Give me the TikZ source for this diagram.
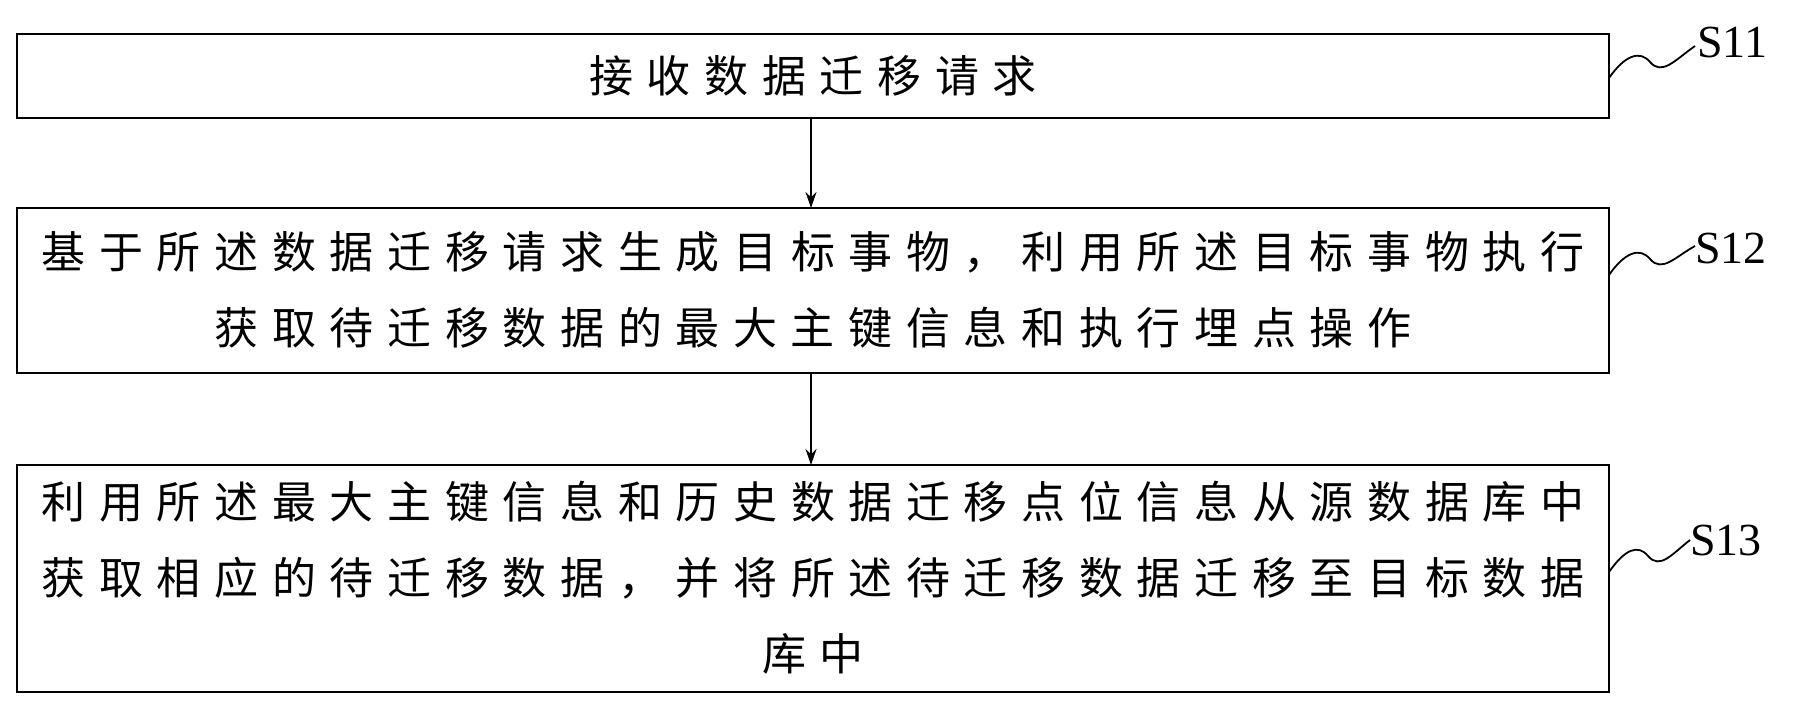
\documentclass[tikz,border=0pt]{standalone}
\usepackage{fontspec}
\usetikzlibrary{arrows.meta}
\newfontfamily\cjk[LetterSpace=31]{Noto Sans CJK SC}
\setmainfont{Liberation Serif}
\begin{document}
\begin{tikzpicture}[x=1pt,y=-1pt,
  box/.style={draw,line width=2.5pt},
  txt/.style={align=center,font=\cjk\fontsize{44}{76}\selectfont,inner sep=0},
  lab/.style={font=\fontsize{46}{46}\selectfont,anchor=west,inner sep=0},
  arr/.style={-{Stealth[length=16pt,width=11pt]},line width=2pt},
  wav/.style={line width=1.8pt}]
\useasboundingbox (0,0) rectangle (1795,707);
\draw[box] (17,34) rectangle (1609,118);
\draw[box] (17,208) rectangle (1609,373);
\draw[box] (17,465) rectangle (1609,692);
\coordinate (b1b) at (811,118); \coordinate (b2t) at (811,208);
\coordinate (b2b) at (811,373); \coordinate (b3t) at (811,465);
\node[txt] (t1) at (813,76) {接收数据迁移请求};
\node[txt] (t2) at (813,290) {基于所述数据迁移请求生成目标事物，利用所述目标事物执行\\获取待迁移数据的最大主键信息和执行埋点操作};
\node[txt] (t3) at (813,578) {利用所述最大主键信息和历史数据迁移点位信息从源数据库中\\获取相应的待迁移数据，并将所述待迁移数据迁移至目标数据\\库中};
\draw[arr] (b1b) -- (b2t);
\draw[arr] (b2b) -- (b3t);
\node[lab] (s1) at (1697,42) {S11};
\node[lab] (s2) at (1695,248) {S12};
\node[lab] (s3) at (1690,540) {S13};
\draw[wav] (1609,78) .. controls (1625,55) and (1640,50) .. (1650,62) .. controls (1662,76) and (1675,60) .. (1695,46);
\draw[wav] (1609,275) .. controls (1625,252) and (1640,247) .. (1650,259) .. controls (1662,273) and (1675,257) .. (1695,246);
\draw[wav] (1609,572) .. controls (1625,549) and (1638,544) .. (1648,556) .. controls (1660,570) and (1672,554) .. (1690,540);
\end{tikzpicture}
\end{document}
